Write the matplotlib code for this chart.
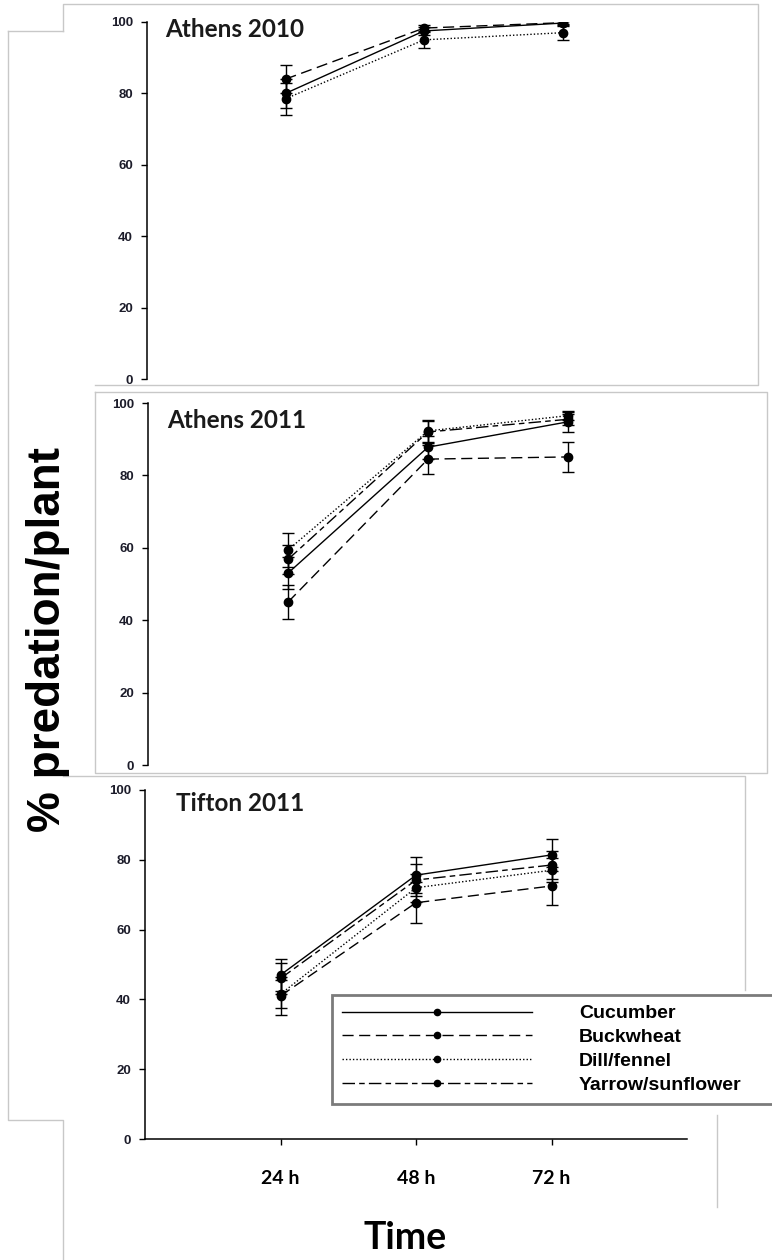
import matplotlib
matplotlib.use("Agg")
import matplotlib.pyplot as plt
from matplotlib.lines import Line2D

# ---- data ----
times = ["24 h", "48 h", "72 h"]
x_pos = [1, 2, 3]

# Athens 2010
a10_cucumber = [80.0, 97.5, 99.7]
a10_cucumber_se = [4.0, 1.2, 0.5]
a10_buckwheat = [84.0, 98.3, 99.8]
a10_buckwheat_se = [4.0, 0.8, 0.5]
a10_dill = [78.5, 95.0, 97.0]
a10_dill_se = [4.5, 2.3, 2.0]

# Athens 2011
a11_cucumber = [53.0, 87.8, 94.8]
a11_cucumber_se = [4.5, 3.2, 2.8]
a11_buckwheat = [45.0, 84.5, 85.1]
a11_buckwheat_se = [4.7, 4.0, 4.2]
a11_dill = [59.4, 92.3, 96.5]
a11_dill_se = [4.6, 3.0, 1.2]
a11_yarrow = [56.8, 92.0, 95.5]
a11_yarrow_se = [4.0, 3.0, 1.5]

# Tifton 2011
t11_cucumber = [47.0, 75.6, 81.4]
t11_cucumber_se = [4.5, 5.2, 4.6]
t11_buckwheat = [41.0, 67.7, 72.5]
t11_buckwheat_se = [5.5, 5.8, 5.5]
t11_dill = [41.5, 72.0, 77.0]
t11_dill_se = [4.0, 4.0, 3.5]
t11_yarrow = [46.0, 74.2, 78.5]
t11_yarrow_se = [4.5, 4.5, 4.0]

labels = ["Cucumber", "Buckwheat", "Dill/fennel", "Yarrow/sunflower"]
styles = {
    "Cucumber": "-",
    "Buckwheat": (0, (8, 4)),
    "Dill/fennel": (0, (1, 1.5)),
    "Yarrow/sunflower": (0, (9, 3, 4, 3)),
}

W, H = 772, 1260
fig = plt.figure(figsize=(W / 100, H / 100), dpi=100)


def fx(px):
    return px / W


def fy(py):
    return 1 - py / H


def make_ax(left, top, bottom, width):
    return fig.add_axes([fx(left), fy(bottom), width / W, (bottom - top) / H])


def plot_series(ax, y, se, name):
    eb = ax.errorbar(x_pos, y, yerr=se, color="black", lw=1.0, ls=styles[name],
                     marker="o", ms=6, mfc="black", mec="black",
                     elinewidth=1.0, capsize=4.5, capthick=1.0, label=name)
    eb.lines[2][0].set_linestyle("-")
    return eb


def style_ax(ax, show_x):
    ax.set_xlim(0, 4)
    ax.set_ylim(0, 100)
    ax.set_yticks([0, 20, 40, 60, 80, 100])
    ax.spines["top"].set_visible(False)
    ax.spines["right"].set_visible(False)
    ax.spines["left"].set_linewidth(1.1)
    ax.tick_params(axis="y", direction="out", length=4, width=1, pad=6,
                   labelsize=9.5, labelcolor="#1c1c2a")
    for t in ax.get_yticklabels():
        t.set_fontweight("bold")
        t.set_fontfamily("Liberation Sans")
    if show_x:
        ax.spines["bottom"].set_linewidth(1.1)
        ax.set_xticks(x_pos)
        ax.set_xticklabels(times, fontsize=14, fontweight="bold", family="Lato")
        ax.tick_params(axis="x", direction="out", length=4, width=1, pad=18)
    else:
        ax.spines["bottom"].set_visible(False)
        ax.set_xticks([])
    ax.patch.set_alpha(0)


title_kw = dict(fontsize=17.5, fontweight="bold", family="Lato", va="center",
                ha="left", color="#1a1a1a")

# ---- Athens 2010 ----
ax1 = make_ax(147, 22, 379, 554)
plot_series(ax1, a10_dill, a10_dill_se, "Dill/fennel")
plot_series(ax1, a10_cucumber, a10_cucumber_se, "Cucumber")
plot_series(ax1, a10_buckwheat, a10_buckwheat_se, "Buckwheat")
style_ax(ax1, False)
ax1.text(0.032, 0.978, "Athens 2010", transform=ax1.transAxes, **title_kw)

# ---- Athens 2011 ----
ax2 = make_ax(148, 403, 765, 560)
plot_series(ax2, a11_cucumber, a11_cucumber_se, "Cucumber")
plot_series(ax2, a11_buckwheat, a11_buckwheat_se, "Buckwheat")
plot_series(ax2, a11_dill, a11_dill_se, "Dill/fennel")
plot_series(ax2, a11_yarrow, a11_yarrow_se, "Yarrow/sunflower")
style_ax(ax2, False)
ax2.text(0.034, 0.953, "Athens 2011", transform=ax2.transAxes, **title_kw)

# ---- Tifton 2011 ----
ax3 = make_ax(145, 790, 1139, 542)
handles = []
for y, se, name in [(t11_cucumber, t11_cucumber_se, "Cucumber"),
                    (t11_buckwheat, t11_buckwheat_se, "Buckwheat"),
                    (t11_dill, t11_dill_se, "Dill/fennel"),
                    (t11_yarrow, t11_yarrow_se, "Yarrow/sunflower")]:
    eb = plot_series(ax3, y, se, name)
    handles.append(eb.lines[0])
style_ax(ax3, True)
ax3.text(0.057, 0.962, "Tifton 2011", transform=ax3.transAxes, **title_kw)

# legend box runs off the right edge like the pasted original
leg = fig.legend(handles, labels, loc="upper left",
                 bbox_to_anchor=(fx(332), fy(1110), fx(810) - fx(332), (1110 - 995) / H),
                 mode="expand", borderaxespad=0,
                 frameon=True, fancybox=False,
                 handlelength=9.8, handletextpad=2.4, labelspacing=0.32,
                 borderpad=0.5, numpoints=1, markerscale=0.75,
                 prop={"family": "Liberation Sans", "weight": "bold", "size": 14})
leg.get_frame().set_edgecolor("#5a5a5a")
leg.get_frame().set_linewidth(2.0)
leg.get_frame().set_facecolor("white")

# axis labels
fig.text(fx(48), fy(640), "% predation/plant", rotation=90, ha="center", va="center",
         fontsize=33, fontweight="bold", family="Liberation Sans")
fig.text(fx(405), fy(1238), "Time", ha="center", va="center",
         fontsize=27, fontweight="bold", family="Lato")

# faint screenshot frame lines around the pasted panels
grey = "#c8c8c8"
frames = [
    [(63, 31), (63, 4), (758, 4), (758, 385), (95, 385)],
    [(95, 392), (767, 392), (767, 773), (95, 773), (95, 392)],
    [(63, 776), (745, 776), (745, 990)],
    [(8, 31), (63, 31)],
    [(8, 31), (8, 1120), (63, 1120), (63, 1260)],
    [(717, 1115), (717, 1207)],
]
for pts in frames:
    xs = [fx(p[0]) for p in pts]
    ys = [fy(p[1]) for p in pts]
    fig.add_artist(Line2D(xs, ys, color=grey, lw=1.0, transform=fig.transFigure, zorder=0))

fig.savefig("out.png", dpi=100)
